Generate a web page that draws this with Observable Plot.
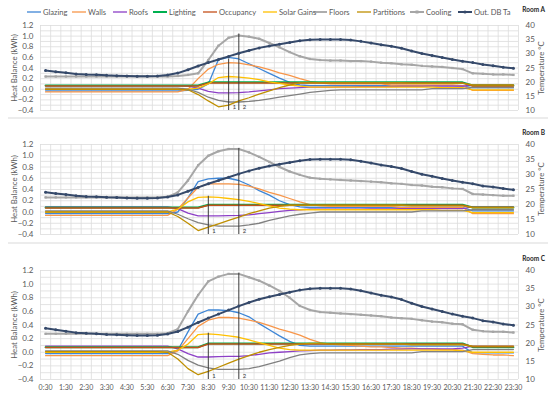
<!DOCTYPE html>
<html><head><meta charset="utf-8">
<script src="https://cdn.jsdelivr.net/npm/d3@7"></script>
<script src="https://cdn.jsdelivr.net/npm/@observablehq/plot@0.6"></script>
<style>
body{margin:0;background:#fff;}
#root{position:relative;width:550px;height:398px;font-family:Lato,"Open Sans",sans-serif;color:#595959;overflow:hidden;background:#fff}
.leg{position:absolute;top:6px;height:12px;display:flex;align-items:center;font-size:7.6px;color:#595959;white-space:nowrap}
.leg svg{margin-right:1px}
.room{position:absolute;font-size:6.5px;font-weight:bold;color:#262626;right:5px}
.ytitle{position:absolute;font-size:7.8px;color:#595959;white-space:nowrap;transform:translate(-50%,-50%) rotate(-90deg)}
.sep{position:absolute;left:8px;width:540px;height:2px;background:#ececec}
svg.plot-layer{position:absolute;left:0}
</style></head><body><div id="root"></div>
<script>
const times = ["0:30","1:00","1:30","2:00","2:30","3:00","3:30","4:00","4:30","5:00",
"5:30","6:00","6:30","7:00","7:30","8:00","8:30","9:00","9:30","10:00",
"10:30","11:00","11:30","12:00","12:30","13:00","13:30","14:00","14:30","15:00",
"15:30","16:00","16:30","17:00","17:30","18:00","18:30","19:00","19:30","20:00",
"20:30","21:00","21:30","22:00","22:30","23:00","23:30"];

const seriesNames = ["Glazing","Walls","Roofs","Lighting","Occupancy","Solar Gains","Floors","Partitions","Cooling"];
const tempName = "Out. DB Ta";
const roomNames = ["Room A","Room B","Room C"];

// Outdoor dry-bulb temperature (°C, right axis)
const outDbTa = [24.1,23.7,23.3,22.9,22.7,22.6,22.4,22.3,22.2,22.1,
22.1,22.2,22.5,23.2,24.4,25.7,26.9,28.0,29.1,30.2,
31.2,32.1,32.8,33.4,34.0,34.6,35.0,35.1,35.1,35.1,
34.9,34.4,33.8,33.2,32.7,32.0,31.0,30.1,29.4,28.7,
28.0,27.4,26.9,26.2,25.8,25.3,24.9];

// ---------- Room A (kWh) ----------
const roomA_glazing = [-0.03,-0.03,-0.03,-0.03,-0.03,-0.03,-0.03,-0.03,-0.03,-0.03,
-0.03,-0.03,-0.03,-0.03,-0.02,0.00,0.10,0.56,0.60,0.57,
0.48,0.39,0.30,0.21,0.13,0.08,0.07,0.07,0.07,0.07,
0.07,0.07,0.07,0.07,0.07,0.07,0.07,0.07,0.07,0.07,
0.07,0.06,0.03,0.03,0.03,0.03,0.03];
const roomA_walls = [-0.05,-0.05,-0.05,-0.05,-0.05,-0.05,-0.05,-0.05,-0.05,-0.05,
-0.05,-0.05,-0.05,-0.05,0.00,0.20,0.38,0.47,0.50,0.49,
0.46,0.42,0.37,0.31,0.26,0.20,0.15,0.12,0.10,0.10,
0.10,0.10,0.10,0.10,0.08,0.08,0.08,0.08,0.08,0.08,
0.08,0.07,-0.02,-0.02,-0.02,-0.02,-0.02];
const roomA_roofs = [0.07,0.07,0.07,0.07,0.07,0.07,0.07,0.07,0.07,0.07,
0.07,0.07,0.07,0.07,0.06,0.02,-0.04,-0.07,-0.07,-0.065,
-0.05,-0.03,-0.01,0.01,0.02,0.03,0.04,0.04,0.04,0.045,
0.045,0.05,0.05,0.05,0.05,0.055,0.055,0.055,0.06,0.06,
0.06,0.06,0.08,0.08,0.08,0.08,0.08];
const roomA_lighting = [0.07,0.07,0.07,0.07,0.07,0.07,0.07,0.07,0.07,0.07,
0.07,0.07,0.07,0.07,0.07,0.07,0.13,0.13,0.13,0.13,
0.13,0.13,0.13,0.13,0.13,0.13,0.13,0.13,0.13,0.13,
0.13,0.13,0.13,0.13,0.13,0.13,0.13,0.13,0.13,0.13,
0.13,0.13,0.07,0.07,0.07,0.07,0.07];
const roomA_occupancy = [0.06,0.06,0.06,0.06,0.06,0.06,0.06,0.06,0.06,0.06,
0.06,0.06,0.06,0.06,0.06,0.06,0.12,0.12,0.12,0.12,
0.12,0.12,0.12,0.12,0.12,0.12,0.12,0.12,0.12,0.12,
0.12,0.12,0.12,0.12,0.12,0.12,0.12,0.12,0.12,0.12,
0.12,0.12,0.06,0.06,0.06,0.06,0.06];
const roomA_solar = [0.00,0.00,0.00,0.00,0.00,0.00,0.00,0.00,0.00,0.00,
0.00,0.00,0.00,0.00,0.00,0.02,0.10,0.22,0.24,0.23,
0.21,0.18,0.14,0.11,0.08,0.06,0.04,0.04,0.04,0.04,
0.04,0.04,0.04,0.04,0.04,0.04,0.04,0.04,0.04,0.03,
0.03,0.03,-0.01,-0.01,-0.01,-0.01,-0.01];
const roomA_floors = [0.02,0.02,0.02,0.02,0.02,0.02,0.02,0.02,0.02,0.02,
0.02,0.02,0.02,0.02,0.00,-0.06,-0.15,-0.21,-0.24,-0.24,
-0.23,-0.21,-0.18,-0.15,-0.12,-0.09,-0.06,-0.04,-0.02,-0.01,
-0.01,-0.01,-0.01,-0.01,-0.01,-0.01,-0.01,-0.01,0.01,0.01,
0.01,0.01,0.03,0.03,0.03,0.03,0.03];
const roomA_partitions = [0.00,0.00,0.00,0.00,0.00,0.00,0.00,0.00,0.00,0.00,
0.00,0.00,0.00,0.00,-0.01,-0.10,-0.22,-0.33,-0.30,-0.22,
-0.16,-0.09,-0.03,0.03,0.08,0.12,0.12,0.12,0.12,0.12,
0.12,0.12,0.12,0.12,0.12,0.12,0.11,0.11,0.11,0.11,
0.11,0.11,0.08,0.08,0.08,0.08,0.08];
const roomA_cooling = [0.24,0.24,0.24,0.24,0.24,0.24,0.24,0.24,0.24,0.24,
0.24,0.24,0.24,0.25,0.27,0.30,0.55,0.82,0.97,1.01,
0.99,0.95,0.87,0.79,0.70,0.62,0.57,0.55,0.54,0.54,
0.53,0.53,0.52,0.50,0.49,0.47,0.46,0.44,0.43,0.42,
0.40,0.38,0.30,0.29,0.28,0.28,0.27];

// ---------- Room B (kWh) ----------
const roomB_glazing = [-0.03,-0.03,-0.03,-0.03,-0.03,-0.03,-0.03,-0.03,-0.03,-0.03,
-0.03,-0.03,-0.03,0.00,0.25,0.54,0.59,0.60,0.60,0.56,
0.48,0.38,0.30,0.20,0.13,0.09,0.08,0.08,0.08,0.08,
0.08,0.08,0.08,0.08,0.08,0.08,0.08,0.08,0.08,0.08,
0.08,0.08,0.02,0.02,0.02,0.02,0.02];
const roomB_walls = [-0.06,-0.06,-0.06,-0.06,-0.06,-0.06,-0.06,-0.06,-0.06,-0.06,
-0.06,-0.06,-0.06,0.05,0.25,0.44,0.50,0.50,0.50,0.49,
0.46,0.41,0.35,0.30,0.24,0.18,0.13,0.11,0.10,0.10,
0.10,0.10,0.10,0.10,0.10,0.08,0.08,0.08,0.08,0.08,
0.08,0.08,-0.03,-0.03,-0.03,-0.03,-0.03];
const roomB_roofs = [0.09,0.09,0.09,0.09,0.09,0.09,0.09,0.09,0.09,0.09,
0.09,0.09,0.09,0.06,-0.02,-0.07,-0.07,-0.07,-0.065,-0.06,
-0.05,-0.03,-0.01,0.01,0.03,0.04,0.05,0.05,0.05,0.05,
0.05,0.05,0.055,0.055,0.055,0.06,0.06,0.06,0.06,0.06,
0.06,0.06,0.09,0.09,0.09,0.09,0.09];
const roomB_lighting = [0.08,0.08,0.08,0.08,0.08,0.08,0.08,0.08,0.08,0.08,
0.08,0.08,0.08,0.08,0.08,0.08,0.13,0.13,0.13,0.13,
0.13,0.13,0.13,0.13,0.13,0.13,0.13,0.13,0.13,0.13,
0.13,0.13,0.13,0.13,0.13,0.13,0.13,0.13,0.13,0.13,
0.13,0.13,0.08,0.08,0.08,0.08,0.08];
const roomB_occupancy = [0.07,0.07,0.07,0.07,0.07,0.07,0.07,0.07,0.07,0.07,
0.07,0.07,0.07,0.07,0.07,0.07,0.12,0.12,0.12,0.12,
0.12,0.12,0.12,0.12,0.12,0.12,0.12,0.12,0.12,0.12,
0.12,0.12,0.12,0.12,0.12,0.12,0.12,0.12,0.12,0.12,
0.12,0.12,0.08,0.08,0.08,0.08,0.08];
const roomB_solar = [0.00,0.00,0.00,0.00,0.00,0.00,0.00,0.00,0.00,0.00,
0.00,0.00,0.00,0.05,0.18,0.26,0.27,0.26,0.24,0.22,
0.19,0.15,0.11,0.07,0.05,0.04,0.04,0.04,0.04,0.04,
0.04,0.04,0.04,0.04,0.04,0.04,0.04,0.04,0.04,0.03,
0.03,0.03,-0.01,-0.01,-0.01,-0.01,-0.01];
const roomB_floors = [0.02,0.02,0.02,0.02,0.02,0.02,0.02,0.02,0.02,0.02,
0.02,0.02,0.02,-0.04,-0.12,-0.19,-0.23,-0.25,-0.25,-0.25,
-0.23,-0.20,-0.15,-0.11,-0.07,-0.04,-0.02,0.00,0.00,0.00,
0.00,0.00,0.00,0.00,0.00,0.00,0.00,0.02,0.02,0.02,
0.02,0.02,0.04,0.04,0.04,0.04,0.04];
const roomB_partitions = [0.00,0.00,0.00,0.00,0.00,0.00,0.00,0.00,0.00,0.00,
0.00,0.00,0.00,-0.08,-0.20,-0.33,-0.27,-0.21,-0.15,-0.09,
-0.03,0.02,0.07,0.10,0.12,0.12,0.12,0.12,0.12,0.12,
0.12,0.12,0.12,0.12,0.12,0.12,0.11,0.11,0.11,0.11,
0.11,0.11,0.08,0.08,0.08,0.08,0.08];
const roomB_cooling = [0.26,0.26,0.26,0.26,0.26,0.26,0.26,0.26,0.26,0.26,
0.26,0.26,0.27,0.35,0.56,0.83,1.00,1.08,1.12,1.12,
1.06,0.98,0.89,0.80,0.72,0.66,0.61,0.59,0.58,0.57,
0.56,0.55,0.54,0.53,0.51,0.50,0.48,0.47,0.45,0.44,
0.42,0.41,0.32,0.31,0.30,0.29,0.29];

// ---------- Room C (kWh) ----------
const roomC_glazing = [-0.02,-0.02,-0.02,-0.02,-0.02,-0.02,-0.02,-0.02,-0.02,-0.02,
-0.02,-0.02,-0.02,0.03,0.30,0.56,0.62,0.62,0.61,0.58,
0.52,0.42,0.33,0.24,0.16,0.10,0.09,0.09,0.09,0.09,
0.09,0.09,0.09,0.09,0.09,0.09,0.09,0.09,0.09,0.09,
0.09,0.09,-0.01,-0.01,-0.01,-0.01,-0.01];
const roomC_walls = [-0.05,-0.05,-0.05,-0.05,-0.05,-0.05,-0.05,-0.05,-0.05,-0.05,
-0.05,-0.05,-0.05,0.02,0.20,0.38,0.47,0.51,0.51,0.50,
0.47,0.44,0.39,0.34,0.30,0.25,0.19,0.14,0.12,0.11,
0.10,0.09,0.08,0.08,0.07,0.06,0.06,0.05,0.05,0.04,
0.04,0.03,-0.02,-0.03,-0.04,-0.04,-0.05];
const roomC_roofs = [0.09,0.09,0.09,0.09,0.09,0.09,0.09,0.09,0.09,0.09,
0.09,0.09,0.09,0.05,-0.02,-0.07,-0.07,-0.065,-0.06,-0.06,
-0.05,-0.03,-0.01,0.00,0.01,0.02,0.025,0.03,0.03,0.035,
0.035,0.04,0.04,0.04,0.045,0.045,0.05,0.05,0.05,0.05,
0.05,0.06,0.09,0.09,0.09,0.09,0.09];
const roomC_lighting = [0.075,0.075,0.075,0.075,0.075,0.075,0.075,0.075,0.075,0.075,
0.075,0.075,0.075,0.075,0.075,0.075,0.13,0.13,0.13,0.13,
0.13,0.13,0.13,0.13,0.13,0.13,0.13,0.13,0.13,0.13,
0.13,0.13,0.13,0.13,0.13,0.13,0.13,0.13,0.13,0.13,
0.13,0.13,0.075,0.075,0.075,0.075,0.075];
const roomC_occupancy = [0.07,0.07,0.07,0.07,0.07,0.07,0.07,0.07,0.07,0.07,
0.07,0.07,0.07,0.07,0.07,0.07,0.12,0.12,0.12,0.12,
0.12,0.12,0.12,0.12,0.12,0.12,0.12,0.12,0.12,0.12,
0.12,0.12,0.12,0.12,0.12,0.12,0.12,0.12,0.12,0.12,
0.12,0.12,0.08,0.08,0.08,0.08,0.08];
const roomC_solar = [0.00,0.00,0.00,0.00,0.00,0.00,0.00,0.00,0.00,0.00,
0.00,0.00,0.00,0.03,0.12,0.26,0.27,0.26,0.24,0.22,
0.18,0.14,0.10,0.06,0.04,0.03,0.03,0.03,0.03,0.03,
0.03,0.03,0.03,0.03,0.03,0.03,0.03,0.03,0.03,0.03,
0.03,0.02,0.00,0.00,0.00,0.00,0.00];
const roomC_floors = [0.02,0.02,0.02,0.02,0.02,0.02,0.02,0.02,0.02,0.02,
0.02,0.02,0.02,-0.03,-0.12,-0.19,-0.23,-0.25,-0.25,-0.25,
-0.24,-0.21,-0.17,-0.13,-0.08,-0.04,-0.02,-0.01,-0.01,-0.01,
-0.01,-0.01,-0.01,-0.01,-0.01,-0.01,-0.01,0.01,0.01,0.01,
0.01,0.01,0.04,0.04,0.04,0.04,0.04];
const roomC_partitions = [0.01,0.01,0.01,0.01,0.01,0.01,0.01,0.01,0.01,0.01,
0.01,0.01,0.00,-0.10,-0.24,-0.33,-0.28,-0.22,-0.16,-0.10,
-0.05,0.00,0.04,0.07,0.10,0.12,0.13,0.13,0.12,0.12,
0.12,0.12,0.12,0.12,0.12,0.12,0.11,0.11,0.11,0.11,
0.11,0.11,0.09,0.09,0.09,0.09,0.09];
const roomC_cooling = [0.27,0.27,0.27,0.27,0.27,0.27,0.27,0.27,0.27,0.27,
0.27,0.27,0.28,0.34,0.60,0.84,1.04,1.11,1.15,1.15,
1.10,1.05,0.98,0.90,0.80,0.68,0.62,0.59,0.58,0.57,
0.56,0.55,0.54,0.53,0.51,0.50,0.49,0.47,0.45,0.44,
0.42,0.41,0.33,0.31,0.30,0.30,0.29];

// Reference lines "1" and "2": time index and the value where each line stops
const refLabels = ["1","2"];
const refIndexA = [18,19], refTopA = [0.57,1.04];
const refIndexB = [16,19], refTopB = [0.28,1.13];
const refIndexC = [16,19], refTopC = [0.28,1.16];

// ---------- styling ----------
const colors = ["#3E86D6","#F7964A","#8C3FC6","#00B050","#C4501A","#FFC000","#808080","#BF8F00","#A6A6A6"];
const widths = [1.3,1.3,1.3,2,1.5,1.3,1.3,1.3,2];
const tempColor = "#35496A";

const rooms = [
  {name: roomNames[0], series:[roomA_glazing,roomA_walls,roomA_roofs,roomA_lighting,roomA_occupancy,roomA_solar,roomA_floors,roomA_partitions,roomA_cooling], refIdx:refIndexA, refTop:refTopA, top:20, h:100, mb:10, xAxis:false, labelTop:6},
  {name: roomNames[1], series:[roomB_glazing,roomB_walls,roomB_roofs,roomB_lighting,roomB_occupancy,roomB_solar,roomB_floors,roomB_partitions,roomB_cooling], refIdx:refIndexB, refTop:refTopB, top:139, h:105, mb:10, xAxis:false, labelTop:129},
  {name: roomNames[2], series:[roomC_glazing,roomC_walls,roomC_roofs,roomC_lighting,roomC_occupancy,roomC_solar,roomC_floors,roomC_partitions,roomC_cooling], refIdx:refIndexC, refTop:refTopC, top:265, h:133, mb:19, xAxis:true, labelTop:255}
];

const root = document.getElementById("root");
const ML = 40, MR = 32, MT = 5;
const baseStyle = {background:"transparent", fontFamily:"Lato, 'Open Sans', sans-serif", fontSize:"8px", color:"#595959", overflow:"visible"};

rooms.forEach(room => {
  const rows = [];
  seriesNames.forEach((s,k) => room.series[k].forEach((v,i) => rows.push({s, k, i, v})));
  const refs = refLabels.map((t,j) => ({t, i: room.refIdx[j], top: room.refTop[j]}));
  const lineMarks = seriesNames.map((s,k) =>
    Plot.line(rows.filter(r => r.k === k), {x:"i", y:"v", stroke: colors[k], strokeWidth: widths[k], strokeLinejoin:"round"}));
  const heat = Plot.plot({
    width:550, height:room.h, marginTop:MT, marginBottom:room.mb, marginLeft:ML, marginRight:MR,
    style: baseStyle,
    x:{domain:[-0.5,46.5], axis:null},
    y:{domain:[-0.4,1.2], axis:null},
    marks:[
      Plot.gridY({ticks:16, stroke:"#dcdcdc", strokeOpacity:1, strokeWidth:0.8}),
      Plot.gridX(d3.range(-0.5,47,1), {stroke:"#dcdcdc", strokeOpacity:1, strokeWidth:0.8}),
      Plot.axisY({ticks:8, tickFormat:d3.format(".1f"), tickSize:0, tickPadding:7, label:null, fill:"#595959", fontSize:8}),
      room.xAxis ? Plot.axisX(d3.range(0,47,2), {tickFormat:i => times[i], tickSize:0, tickPadding:6, label:null, fill:"#595959", fontSize:7}) : null,
      ...lineMarks,
      Plot.dot(rows.filter(r => r.k === 8), {x:"i", y:"v", r:1.3, symbol:"square", fill:colors[8]}),
      Plot.ruleX(refs, {x:"i", y1:-0.4, y2:"top", stroke:"#3a3a3a", strokeWidth:1}),
      Plot.text(refs, {x:"i", y:-0.4, text:"t", dx:4, dy:-3.5, textAnchor:"start", fontSize:6, fill:"#404040"})
    ]
  });
  heat.classList.add("plot-layer");
  heat.style.top = room.top + "px";
  root.appendChild(heat);

  const temp = Plot.plot({
    width:550, height:room.h, marginTop:MT, marginBottom:room.mb, marginLeft:ML, marginRight:MR,
    style: baseStyle,
    x:{domain:[-0.5,46.5], axis:null},
    y:{domain:[10,40], axis:null},
    marks:[
      Plot.axisY({anchor:"right", ticks:6, tickSize:0, tickPadding:7, label:null, fill:"#595959", fontSize:8}),
      Plot.line(outDbTa, {x:(d,i) => i, y:d => d, stroke:tempColor, strokeWidth:2}),
      Plot.dot(outDbTa, {x:(d,i) => i, y:d => d, r:1.5, fill:tempColor})
    ]
  });
  temp.classList.add("plot-layer");
  temp.style.top = room.top + "px";
  root.appendChild(temp);

  const plotMid = room.top + MT + (room.h - MT - room.mb)/2;
  const yl = document.createElement("div");
  yl.className = "ytitle"; yl.textContent = "Heat Balance (kWh)";
  yl.style.left = "14px"; yl.style.top = plotMid + "px";
  root.appendChild(yl);
  const yr = document.createElement("div");
  yr.className = "ytitle"; yr.textContent = "Temperature °C";
  yr.style.left = "541px"; yr.style.top = plotMid + "px";
  root.appendChild(yr);

  const rl = document.createElement("div");
  rl.className = "room"; rl.textContent = room.name;
  rl.style.top = room.labelTop + "px";
  root.appendChild(rl);
});

// separators below panels A and B
[117, 242].forEach(y => { const s = document.createElement("div"); s.className = "sep"; s.style.top = y + "px"; root.appendChild(s); });

// legend
const legendNames = [...seriesNames, tempName];
const legendColors = [...colors, tempColor];
const legendLeft = [27,72,113,153,203,263,313,357,410,458];
legendNames.forEach((n,k) => {
  const d = document.createElement("div");
  d.className = "leg"; d.style.left = legendLeft[k] + "px";
  const w = k === 3 || k >= 8 ? 2 : 1.3;
  let marker = "";
  if (k === 8) marker = `<rect x="5.5" y="4.5" width="3" height="3" fill="${legendColors[k]}"/>`;
  if (k === 9) marker = `<circle cx="7" cy="6" r="1.6" fill="${legendColors[k]}"/>`;
  d.innerHTML = `<svg width="15" height="12"><line x1="0" x2="14" y1="6" y2="6" stroke="${legendColors[k]}" stroke-width="${w}"/>${marker}</svg><span>${n}</span>`;
  root.appendChild(d);
});
</script></body></html>
